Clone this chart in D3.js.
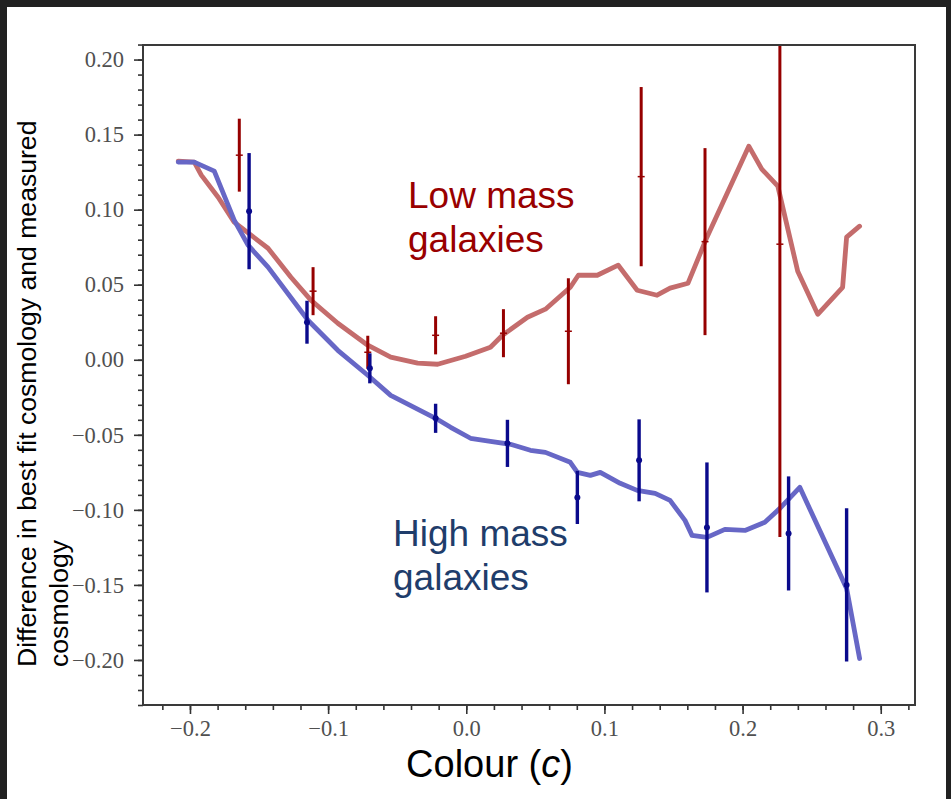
<!DOCTYPE html>
<html>
<head>
<meta charset="utf-8">
<script src="https://cdn.jsdelivr.net/npm/d3@7"></script>
<style>
html,body{margin:0;padding:0;background:#212121;}
svg{display:block;}
</style>
</head>
<body>
<svg id="chart" width="951" height="799"></svg>
<script>
// ---- data ----
const redLineX = [-0.2085,-0.1969,-0.1918,-0.1796,-0.168,-0.1558,-0.1435,-0.1269,-0.1125,-0.093,-0.0713,-0.0547,-0.0352,-0.0207,-0.0005,0.0175,0.0262,0.0443,0.0573,0.0753,0.0811,0.0948,0.11,0.1237,0.1381,0.1475,0.1605,0.1742,0.2045,0.2139,0.2255,0.2399,0.2544,0.2724,0.2753,0.2847];
const redLineY = [0.1323,0.1317,0.123,0.1083,0.0917,0.083,0.0743,0.055,0.0397,0.0243,0.0097,0.0017,-0.0023,-0.003,0.0023,0.0083,0.0163,0.0283,0.0337,0.0483,0.0563,0.0563,0.063,0.0463,0.043,0.0477,0.051,0.0817,0.1423,0.127,0.1157,0.059,0.0303,0.0483,0.0817,0.089];
const blueLineX = [-0.2085,-0.1969,-0.1824,-0.168,-0.1579,-0.1435,-0.1146,-0.093,-0.0713,-0.0547,-0.0222,-0.0113,0.0031,0.0175,0.032,0.0464,0.0573,0.0753,0.0804,0.0898,0.097,0.1114,0.1237,0.1367,0.1475,0.1583,0.1634,0.1742,0.1872,0.2017,0.2161,0.227,0.2414,0.2753,0.2847];
const blueLineY = [0.1317,0.1317,0.1257,0.093,0.0763,0.0617,0.0263,0.0063,-0.0103,-0.0237,-0.039,-0.045,-0.0523,-0.0543,-0.0563,-0.0603,-0.0617,-0.0683,-0.075,-0.077,-0.075,-0.0823,-0.087,-0.089,-0.0937,-0.107,-0.117,-0.1183,-0.113,-0.1137,-0.1083,-0.099,-0.085,-0.1523,-0.199];

const redErrX = [-0.1643,-0.1109,-0.0713,-0.0222,0.0269,0.0739,0.1266,0.1728,0.227];
const redErrY = [0.1363,0.0457,0.005,0.0163,0.0177,0.019,0.122,0.0787,0.077];
const redErrE = [0.0243,0.016,0.011,0.0127,0.016,0.0353,0.0597,0.0623,0.195];

const blueErrX = [-0.1572,-0.1153,-0.0698,-0.0222,0.0298,0.0804,0.1251,0.1742,0.2333,0.2753];
const blueErrY = [0.099,0.025,-0.0057,-0.039,-0.0557,-0.0917,-0.067,-0.1117,-0.1157,-0.15];
const blueErrE = [0.0387,0.0143,0.01,0.0097,0.0157,0.0177,0.0273,0.0433,0.038,0.051];

const xTicks = [-0.2,-0.1,0.0,0.1,0.2,0.3];
const xTickLabels = ["\u22120.2","\u22120.1","0.0","0.1","0.2","0.3"];
const yTicks = [0.20,0.15,0.10,0.05,0.00,-0.05,-0.10,-0.15,-0.20];
const yTickLabels = ["0.20","0.15","0.10","0.05","0.00","\u22120.05","\u22120.10","\u22120.15","\u22120.20"];
const xMinor = d3.range(-22,33,2).map(v=>v/100);
const yMinor = d3.range(-23,22,1).map(v=>v/100);

const xLabel = "Colour (";
const xLabelItalic = "c";
const yLabelLines = ["Difference in best fit cosmology and measured","cosmology"];
const lowLabel = ["Low mass","galaxies"];
const highLabel = ["High mass","galaxies"];

// ---- layout ----
const L = 143, R = 915, T = 45, B = 705;
const svg = d3.select("#chart");
svg.append("rect").attr("x",7).attr("y",7).attr("width",939).attr("height",792).attr("fill","#ffffff");

const x = d3.scaleLinear().domain([-0.234,0.3248]).range([L,R]);
const y = d3.scaleLinear().domain([-0.23,0.2097]).range([B,T]);

svg.append("defs").append("clipPath").attr("id","clip")
  .append("rect").attr("x",L).attr("y",T).attr("width",R-L).attr("height",B-T);

const plot = svg.append("g").attr("clip-path","url(#clip)");

const line = d3.line().x(d=>x(d[0])).y(d=>y(d[1]));
const redPts = redLineX.map((v,i)=>[v,redLineY[i]]);
const bluePts = blueLineX.map((v,i)=>[v,blueLineY[i]]);

plot.append("path").datum(redPts).attr("d",line)
  .attr("fill","none").attr("stroke","#c46c6c").attr("stroke-width",4.8)
  .attr("stroke-linejoin","round").attr("stroke-linecap","round");
plot.append("path").datum(bluePts).attr("d",line)
  .attr("fill","none").attr("stroke","#6767c6").attr("stroke-width",4.8)
  .attr("stroke-linejoin","round").attr("stroke-linecap","round");

// red error bars
const redErr = redErrX.map((v,i)=>({x:v,y:redErrY[i],e:redErrE[i]}));
plot.selectAll(".rerr").data(redErr).enter().append("line")
  .attr("x1",d=>x(d.x)).attr("x2",d=>x(d.x))
  .attr("y1",d=>y(d.y+d.e)).attr("y2",d=>y(d.y-d.e))
  .attr("stroke","#960000").attr("stroke-width",3);
plot.selectAll(".rmark").data(redErr).enter().append("line")
  .attr("x1",d=>x(d.x)-3.5).attr("x2",d=>x(d.x)+3.5)
  .attr("y1",d=>y(d.y)).attr("y2",d=>y(d.y))
  .attr("stroke","#960000").attr("stroke-width",1.5);

// blue error bars
const blueErr = blueErrX.map((v,i)=>({x:v,y:blueErrY[i],e:blueErrE[i]}));
plot.selectAll(".berr").data(blueErr).enter().append("line")
  .attr("x1",d=>x(d.x)).attr("x2",d=>x(d.x))
  .attr("y1",d=>y(d.y+d.e)).attr("y2",d=>y(d.y-d.e))
  .attr("stroke","#0a0a8c").attr("stroke-width",3.4);
plot.selectAll(".bdot").data(blueErr).enter().append("circle")
  .attr("cx",d=>x(d.x)).attr("cy",d=>y(d.y)).attr("r",3)
  .attr("fill","#0a0a8c");

// axes
const tickFont = "'Liberation Serif', 'Times New Roman', serif";
const gx = svg.append("g").attr("transform",`translate(0,${B})`)
  .call(d3.axisBottom(x).tickValues(xTicks).tickFormat((d,i)=>xTickLabels[i]).tickSize(9).tickPadding(6));
const gxm = svg.append("g").attr("transform",`translate(0,${B})`)
  .call(d3.axisBottom(x).tickValues(xMinor).tickFormat("").tickSize(5));
const gy = svg.append("g").attr("transform",`translate(${L},0)`)
  .call(d3.axisLeft(y).tickValues(yTicks).tickFormat((d,i)=>yTickLabels[i]).tickSize(9).tickPadding(10));
const gym = svg.append("g").attr("transform",`translate(${L},0)`)
  .call(d3.axisLeft(y).tickValues(yMinor).tickFormat("").tickSize(5));
[gx,gxm,gy,gym].forEach(g=>{
  g.select(".domain").remove();
  g.selectAll(".tick line").attr("stroke","#333").attr("stroke-width",1.6);
  g.selectAll(".tick text").attr("fill","#505050").style("font-family",tickFont).style("font-size","22.5px");
});

// frame
svg.append("rect").attr("x",L).attr("y",T).attr("width",R-L).attr("height",B-T)
  .attr("fill","none").attr("stroke","#3a3a3a").attr("stroke-width",2);

// axis labels
const sans = "'Liberation Sans', Arial, sans-serif";
const xl = svg.append("text").attr("x",489.5).attr("y",777).attr("text-anchor","middle")
  .style("font-family",sans).style("font-size","38px").attr("fill","#000");
xl.append("tspan").text(xLabel);
xl.append("tspan").style("font-style","italic").text(xLabelItalic);
xl.append("tspan").text(")");

svg.append("text").attr("transform","translate(36,667) rotate(-90)")
  .style("font-family",sans).style("font-size","26.6px").attr("fill","#000").text(yLabelLines[0]);
svg.append("text").attr("transform","translate(68,667) rotate(-90)")
  .style("font-family",sans).style("font-size","26.6px").attr("fill","#000").text(yLabelLines[1]);

// annotations
const low = svg.append("text").style("font-family",sans).style("font-size","37px").attr("fill","#990000");
low.append("tspan").attr("x",408).attr("y",208).text(lowLabel[0]);
low.append("tspan").attr("x",408).attr("y",252).text(lowLabel[1]);
const high = svg.append("text").style("font-family",sans).style("font-size","37px").attr("fill","#1f3d6b");
high.append("tspan").attr("x",393).attr("y",546).text(highLabel[0]);
high.append("tspan").attr("x",393).attr("y",590).text(highLabel[1]);
</script>
</body>
</html>
